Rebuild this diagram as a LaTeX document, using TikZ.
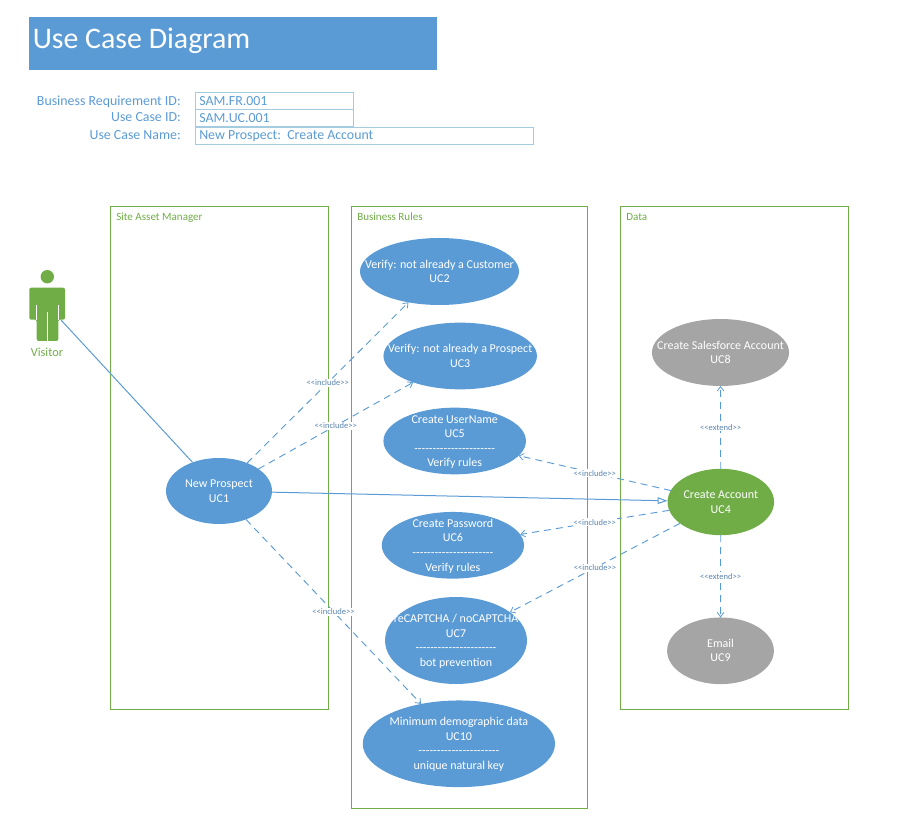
\documentclass[tikz,border=0pt]{standalone}
\usepackage{fontspec}
\setmainfont{Carlito}[Ligatures=TeXOff]
\usetikzlibrary{arrows.meta,shapes.geometric}
\definecolor{ucblue}{HTML}{5B9BD5}
\definecolor{ucgreen}{HTML}{70AD47}
\definecolor{ucgrey}{HTML}{A5A5A5}
\definecolor{boxline}{HTML}{A5CBE0}
\definecolor{taglabel}{HTML}{5A85B0}
% Centres a stack of lines on the node without letting it widen the ellipse
\newcommand{\uclines}[1]{\vbox to 0pt{\kern1.5pt\vss\hbox to 0pt{\hss\begin{tabular}{@{}c@{}}#1\end{tabular}\hss}\vss}}
\newcommand{\ucrule}{----------------------}
\tikzset{
  usecase/.style={ellipse,draw=none,fill=ucblue,text=white,inner sep=0pt,outer sep=0pt,
    font=\fontsize{9}{10.9}\selectfont},
  usecasegrey/.style={usecase,fill=ucgrey},
  usecasegreen/.style={usecase,fill=ucgreen},
  frameline/.style={draw=ucgreen,line width=0.8pt},
  framelabel/.style={text=ucgreen,font=\fontsize{8.3}{9}\selectfont,inner sep=0pt,anchor=base west},
  assoc/.style={draw=ucblue,line width=0.75pt},
  generalize/.style={assoc,-{Triangle[open,length=7.5pt,width=5pt,fill=white]}},
  dep/.style={draw=ucblue,line width=0.7pt,dash pattern=on 5.2pt off 3.8pt,
    -{Straight Barb[length=3.3pt,width=5pt,line width=0.6pt]}},
  tag/.style={midway,fill=white,text=taglabel,inner sep=0.7pt,font=\fontsize{6.4}{7}\selectfont},
  formlabel/.style={text=ucblue,font=\fontsize{10.4}{12}\selectfont,inner sep=0pt,anchor=base east},
  formvalue/.style={text=ucblue,font=\fontsize{10.4}{12}\selectfont,inner sep=0pt,anchor=base west},
  formbox/.style={draw=boxline,line width=0.75pt},
}
\begin{document}
\begin{tikzpicture}[x=0.75pt,y=-0.75pt]
\useasboundingbox (0,0) rectangle (897,837);

% Heading band
\fill[ucblue] (29,17) rectangle (437,70);
\node[text=white,font=\fontsize{22.4}{26}\selectfont,inner sep=0pt,anchor=base west] (heading) at (32.5,48.5) {Use Case Diagram};

% Identification form
\node[formlabel] (lblreq) at (181,106) {Business Requirement ID:};
\node[formlabel] (lblid) at (181,122) {Use Case ID:};
\node[formlabel] (lblname) at (181,140) {Use Case Name:};
\draw[formbox] (195.5,92.5) rectangle (353.5,109.5);
\draw[formbox] (195.5,109.5) rectangle (353.5,126.5);
\draw[formbox] (195.5,127.5) rectangle (533.5,144.5);
\node[formvalue] (valreq) at (199,106) {SAM.FR.001};
\node[formvalue] (valid) at (199,123) {SAM.UC.001};
\node[formvalue] (valname) at (199,140) {New Prospect:\ \ Create Account};

% Swimlane frames
\draw[frameline] (110.5,206.5) rectangle (328.5,709.5);
\draw[frameline] (351.5,206.5) rectangle (587.5,808.5);
\draw[frameline] (620.5,206.5) rectangle (848.5,709.5);
\node[framelabel] (lanesite) at (116,221) {Site Asset Manager};
\node[framelabel] (lanerules) at (357,221) {Business Rules};
\node[framelabel] (lanedata) at (626,221) {Data};

% Actor figure
\fill[ucgreen] (47.3,276.7) circle[radius=6.7];
\fill[ucgreen,rounded corners=1.5pt] (29.3,319.7) -- (29.3,287.7) -- (65,287.7) -- (65,319.7) -- (58.3,319.7) -- (58.3,341) -- (36.7,341) -- (36.7,319.7) -- cycle;
\draw[white,line width=0.75pt] (36.7,305) -- (36.7,320.5);
\draw[white,line width=0.75pt] (58.3,305) -- (58.3,320.5);
\draw[white,line width=0.75pt] (47.3,311.7) -- (47.3,341.5);
\node[text=ucgreen,font=\fontsize{9.2}{11}\selectfont,inner sep=0pt,anchor=base] (visitor) at (47,357) {Visitor};
\coordinate (visitorhand) at (61,320);

% Use cases
\node[usecase,minimum width=79.5pt,minimum height=49.5pt] (uc1) at (219,491) {\uclines{New Prospect\\UC1}};
\node[usecase,minimum width=119.25pt,minimum height=50.25pt] (uc2) at (439.5,271.5) {\uclines{Verify: not already a Customer\\UC2}};
\node[usecase,minimum width=115.1pt,minimum height=50pt] (uc3) at (460.2,356) {\uclines{Verify: not already a Prospect\\UC3}};
\node[usecase,minimum width=106.9pt,minimum height=50pt] (uc5) at (454.7,441) {\uclines{Create UserName\\UC5\\\ucrule\\Verify rules}};
\node[usecase,minimum width=106.7pt,minimum height=50pt] (uc6) at (452.9,545.3) {\uclines{Create Password\\UC6\\\ucrule\\Verify rules}};
\node[usecase,minimum width=106.5pt,minimum height=65.2pt] (uc7) at (456,640.5) {\uclines{reCAPTCHA / noCAPTCHA\\UC7\\\ucrule\\bot prevention}};
\node[usecase,minimum width=144.2pt,minimum height=65pt] (uc10) at (458.9,743.8) {\uclines{Minimum demographic data\\UC10\\\ucrule\\unique natural key}};
\node[usecasegrey,minimum width=102.8pt,minimum height=50.2pt] (uc8) at (720.5,352.5) {\uclines{Create Salesforce Account\\UC8}};
\node[usecasegreen,minimum width=79.9pt,minimum height=49.8pt] (uc4) at (720.8,502) {\uclines{Create Account\\UC4}};
\node[usecasegrey,minimum width=80.1pt,minimum height=50pt] (uc9) at (720.5,650.8) {\uclines{Email\\UC9}};

% Associations
\draw[assoc] (visitorhand) -- (uc1);
\draw[generalize] (uc1) -- (uc4);

% Include and extend dependencies
\draw[dep] (uc1) -- node[tag] (tag2) {<<include>>} (uc2);
\draw[dep] (uc1) -- node[tag] (tag3) {<<include>>} (uc3);
\draw[dep] (uc1) -- node[tag] (tag10) {<<include>>} (uc10);
\draw[dep] (uc4) -- node[tag] (tag5) {<<include>>} (uc5);
\draw[dep] (uc4) -- node[tag] (tag6) {<<include>>} (uc6);
\draw[dep] (uc4) -- node[tag] (tag7) {<<include>>} (uc7);
\draw[dep] (uc4) -- node[tag] (tag8) {<<extend>>} (uc8);
\draw[dep] (uc4) -- node[tag] (tag9) {<<extend>>} (uc9);
\end{tikzpicture}
\end{document}
